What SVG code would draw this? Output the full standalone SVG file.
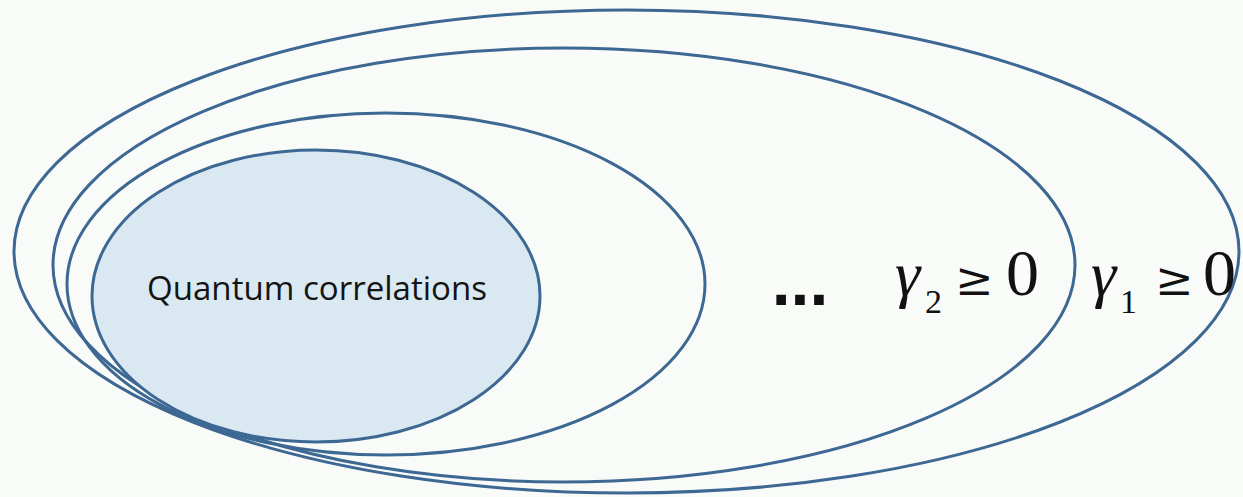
<svg xmlns="http://www.w3.org/2000/svg" width="1243" height="497" viewBox="0 0 1243 497">
  <style>
    .ring { fill: none; stroke: #3d6893; stroke-width: 3; }
    .core { fill: #dae8f2; stroke: #3d6893; stroke-width: 3; }
    .label { font-family: "Open Sans", "Noto Sans", sans-serif; fill: #141414; }
    .math { font-family: "Liberation Serif", "Times New Roman", serif; fill: #111; }
    .rel { font-family: "DejaVu Serif", "Liberation Serif", serif; fill: #111; }
    .dots { font-family: "Liberation Sans", Arial, sans-serif; font-weight: bold; fill: #111; }
  </style>
  <rect width="1243" height="497" fill="#f9fbf8"/>

  <!-- nested constraint sets, outermost first -->
  <g id="set-gamma1">
    <ellipse class="ring" cx="626.5" cy="251.5" rx="612.5" ry="241.5"/>
    <text class="math" x="1091" y="295" font-size="64" font-style="italic">γ</text>
    <text class="math" x="1120" y="313" font-size="34">1</text>
    <text class="rel" x="1155" y="295" font-size="46">≥</text>
    <text class="math" x="1203" y="295" font-size="66">0</text>
  </g>

  <g id="set-gamma2">
    <ellipse class="ring" cx="564" cy="265" rx="511" ry="217"/>
    <text class="math" x="895" y="295" font-size="64" font-style="italic">γ</text>
    <text class="math" x="925" y="313" font-size="34">2</text>
    <text class="rel" x="955" y="295" font-size="46">≥</text>
    <text class="math" x="1006" y="295" font-size="66">0</text>
  </g>

  <g id="set-intermediate">
    <ellipse class="ring" cx="386" cy="284" rx="319" ry="171"/>
    <text class="dots" x="800" y="305" font-size="68" text-anchor="middle">...</text>
  </g>

  <g id="quantum">
    <ellipse class="core" cx="316" cy="296" rx="224" ry="146"/>
    <text class="label" x="147" y="300" font-size="32" textLength="340" lengthAdjust="spacingAndGlyphs">Quantum correlations</text>
  </g>

  <g id="connectors"/>
</svg>
